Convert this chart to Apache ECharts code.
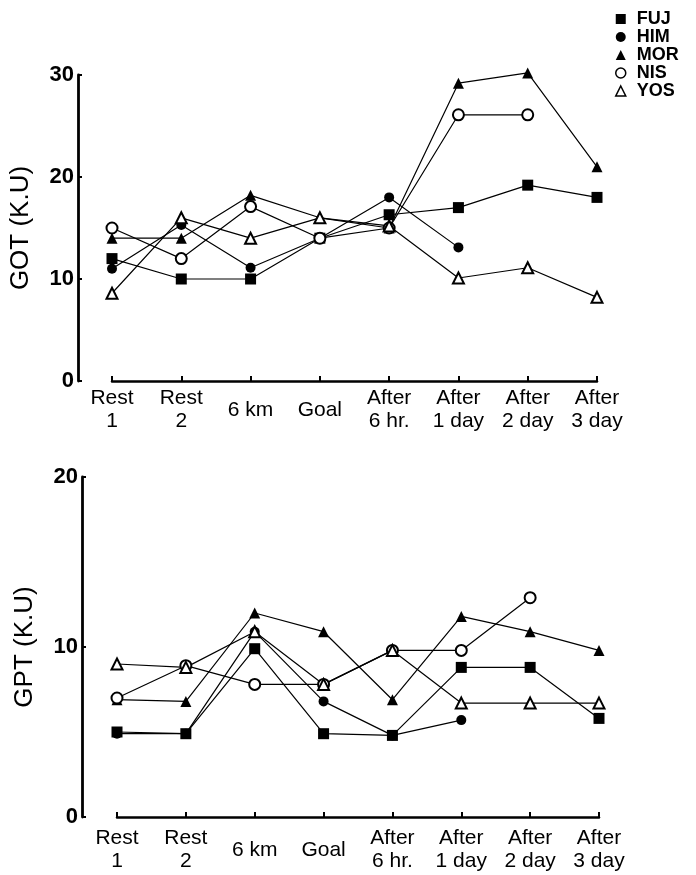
<!DOCTYPE html>
<html>
<head>
<meta charset="utf-8">
<script src="https://cdn.jsdelivr.net/npm/echarts@6/dist/echarts.min.js"></script>
<style>html,body{margin:0;padding:0;background:#fff;}#c{width:696px;height:875px;}</style>
</head>
<body>
<div id="c"></div>
<script>
var categories = ['Rest\n1', 'Rest\n2', '6 km', 'Goal', 'After\n6 hr.', 'After\n1 day', 'After\n2 day', 'After\n3 day'];
var seriesNames = ['FUJ', 'HIM', 'MOR', 'NIS', 'YOS'];

// GOT (K.U)
var gotFUJ = [12, 10, 10, 14, 16.3, 17, 19.2, 18];
var gotHIM = [11, 15.3, 11.1, 14, 18, 13.1, null, null];
var gotMOR = [14, 14, 18.2, 16, 15, 29.2, 30.2, 21];
var gotNIS = [15, 12, 17.1, 14, 15, 26.1, 26.1, null];
var gotYOS = [8.6, 16, 14, 16, 15.2, 10.1, 11.1, 8.2];

// GPT (K.U)
var gptFUJ = [5, 4.9, 9.9, 4.9, 4.8, 8.8, 8.8, 5.8];
var gptHIM = [4.9, 4.9, 10.9, 6.8, 4.8, 5.7, null, null];
var gptMOR = [6.9, 6.8, 12, 10.9, 6.9, 11.8, 10.9, 9.8];
var gptNIS = [7, 8.9, 7.8, 7.8, 9.8, 9.8, 12.9, null];
var gptYOS = [9, 8.8, 10.9, 7.8, 9.8, 6.7, 6.7, 6.7];

var gotTicks = [0, 10, 20, 30];
var gptTicks = [0, 10, 20];

var FONT = '"Liberation Sans", Arial, Helvetica, sans-serif';
var symbols = {
  FUJ: {symbol: 'rect', size: 11, item: {color: '#000'}},
  HIM: {symbol: 'circle', size: 10, item: {color: '#000'}},
  MOR: {symbol: 'triangle', size: 11, item: {color: '#000'}},
  NIS: {symbol: 'emptyCircle', size: 11, item: {color: '#000', borderWidth: 2}},
  YOS: {symbol: 'emptyTriangle', size: 11, item: {color: '#000', borderWidth: 1.6}}
};

function mkSeries(name, data, idx) {
  var s = symbols[name];
  return {
    name: name, type: 'line', xAxisIndex: idx, yAxisIndex: idx, data: data,
    symbol: s.symbol, symbolSize: s.size, showAllSymbol: true, clip: false,
    lineStyle: {color: '#000', width: 1.2},
    itemStyle: s.item,
    connectNulls: false, animation: false
  };
}

function xAxis(idx, margin) {
  return {
    type: 'category', gridIndex: idx, data: categories, boundaryGap: false,
    axisLine: {lineStyle: {color: '#000', width: 2.5}},
    axisTick: {inside: true, length: 5, lineStyle: {color: '#000', width: 2}},
    axisLabel: {color: '#000', fontSize: 21, fontFamily: FONT, lineHeight: 23, margin: margin, verticalAlign: 'middle', interval: 0},
    splitLine: {show: false}
  };
}

function yAxis(idx, max, ticks, name, offset) {
  return {
    type: 'value', gridIndex: idx, min: ticks[0], max: max, interval: ticks[1] - ticks[0], offset: offset,
    name: name, nameLocation: 'middle', nameGap: 44, nameRotate: 90,
    nameTextStyle: {color: '#000', fontSize: 26, fontFamily: FONT},
    axisLine: {show: true, lineStyle: {color: '#000', width: 2.8}},
    axisTick: {show: true, inside: true, length: 4, lineStyle: {color: '#000', width: 2}},
    axisLabel: {color: '#000', fontSize: 22, fontWeight: 'bold', fontFamily: FONT, margin: 4},
    splitLine: {show: false}
  };
}

var legendData = [
  {name: 'FUJ', icon: 'rect', itemStyle: {color: '#000'}},
  {name: 'HIM', icon: 'circle', itemStyle: {color: '#000'}},
  {name: 'MOR', icon: 'triangle', itemStyle: {color: '#000'}},
  {name: 'NIS', icon: 'circle', itemStyle: {color: '#fff', borderColor: '#000', borderWidth: 1.5}},
  {name: 'YOS', icon: 'triangle', itemStyle: {color: '#fff', borderColor: '#000', borderWidth: 1.5}}
];

var chart = echarts.init(document.getElementById('c'), null, {renderer: 'canvas'});
chart.setOption({
  backgroundColor: '#fff',
  animation: false,
  legend: {
    data: legendData, orient: 'vertical', left: 610, top: 5,
    itemWidth: 10, itemHeight: 10, itemGap: 0, selectedMode: false,
    textStyle: {color: '#000', fontSize: 18, fontWeight: 'bold', fontFamily: FONT, lineHeight: 18, padding: [0, 0, 0, 6]}
  },
  grid: [
    {left: 112, top: 75, width: 485, height: 306},
    {left: 117, top: 477, width: 482, height: 340}
  ],
  xAxis: [xAxis(0, 29), xAxis(1, 33)],
  yAxis: [yAxis(0, 30, gotTicks, 'GOT (K.U)', 34), yAxis(1, 20, gptTicks, 'GPT (K.U)', 35)],
  series: [
    mkSeries('FUJ', gotFUJ, 0), mkSeries('HIM', gotHIM, 0), mkSeries('MOR', gotMOR, 0), mkSeries('NIS', gotNIS, 0), mkSeries('YOS', gotYOS, 0),
    mkSeries('FUJ', gptFUJ, 1), mkSeries('HIM', gptHIM, 1), mkSeries('MOR', gptMOR, 1), mkSeries('NIS', gptNIS, 1), mkSeries('YOS', gptYOS, 1)
  ]
});
</script>
</body>
</html>
